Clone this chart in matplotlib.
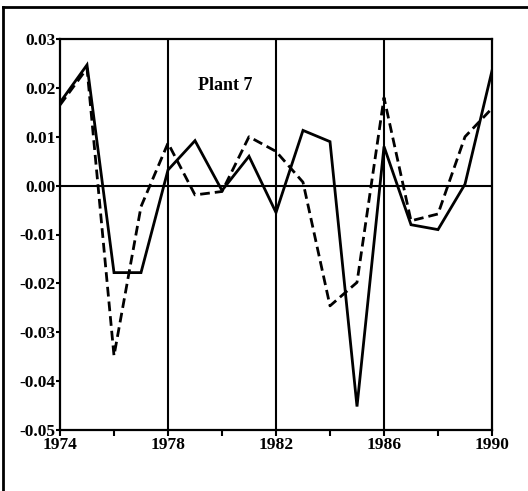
import matplotlib
matplotlib.use("Agg")
import matplotlib.pyplot as plt
from matplotlib.lines import Line2D

years = list(range(1974, 1991))
solid = [0.0170, 0.0247, -0.0178, -0.0178, 0.0032, 0.0092, -0.0010, 0.0060,
         -0.0055, 0.0113, 0.0090, -0.0452, 0.0080, -0.0080, -0.0090, 0.0003, 0.0235]
dashed = [0.0165, 0.0240, -0.0348, -0.0043, 0.0087, -0.0019, -0.0012, 0.0100,
          0.0070, 0.0007, -0.0246, -0.0198, 0.0180, -0.0072, -0.0058, 0.0100, 0.0158]
xticks = [1974, 1978, 1982, 1986, 1990]
xminor = [1976, 1980, 1984, 1988]
yticks = [0.03, 0.02, 0.01, 0.00, -0.01, -0.02, -0.03, -0.04, -0.05]
ylabels = ["0.03", "0.02", "0.01", "0.00", "-0.01", "-0.02", "-0.03", "-0.04", "-0.05"]
vlines = [1978, 1982, 1986]
title = "Plant 7"

plt.rcParams['font.family'] = ['Liberation Serif', 'DejaVu Serif']
fig = plt.figure(figsize=(5.28, 4.91), dpi=100)
ax = fig.add_axes([60/528, 1-430/491, (492-60)/528, (430-39)/491])

for v in vlines:
    ax.axvline(v, color='black', lw=1.5, zorder=1)
ax.axhline(0, color='black', lw=1.5, zorder=1)

ax.plot(years, solid, color='black', lw=2.0, solid_joinstyle='miter', zorder=3)
ax.plot(years, dashed, color='black', lw=2.0, linestyle=(0, (3.5, 1.8)), zorder=3)

ax.set_xlim(1974, 1990)
ax.set_ylim(-0.05, 0.03)
ax.set_xticks(xticks)
ax.set_xticklabels([str(x) for x in xticks], fontsize=12.5, fontweight='bold')
ax.set_xticks(xminor, minor=True)
ax.set_yticks(yticks)
ax.set_yticklabels(ylabels, fontsize=12.5, fontweight='bold')
ax.tick_params(axis='x', which='both', direction='out', length=4, width=1.5, pad=1)
ax.tick_params(axis='y', direction='out', length=3, width=1.5, pad=0)
for s in ax.spines.values():
    s.set_linewidth(1.6)

ax.text(1979.1, 0.0205, title, fontsize=13, fontweight='bold', ha='left', va='center')

fig.add_artist(Line2D([3/528, 3/528], [0, 1-7/491], transform=fig.transFigure, color='black', lw=2))
fig.add_artist(Line2D([3/528, 1], [1-7/491, 1-7/491], transform=fig.transFigure, color='black', lw=2))

fig.savefig("out.png", dpi=100)
